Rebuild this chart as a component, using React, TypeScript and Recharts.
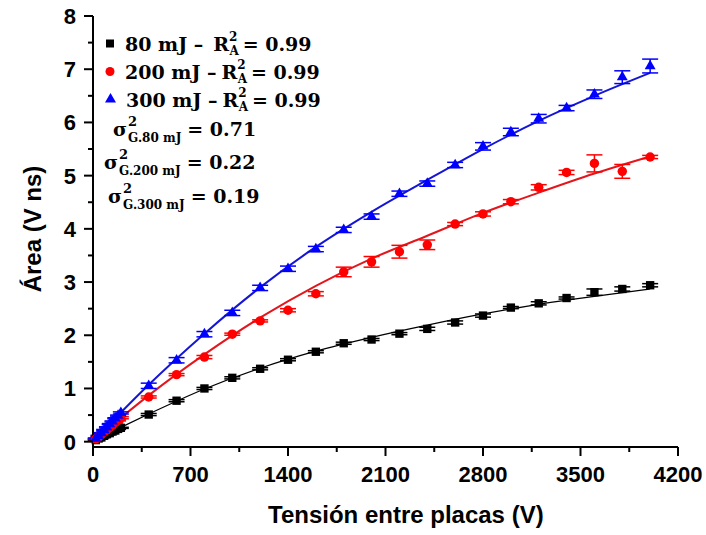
import { ComposedChart, ErrorBar, Line, Scatter, XAxis, YAxis, ZAxis } from 'recharts';

// measured points (tension in V, area in V ns)
const voltages = [
  20, 40, 60, 80, 100, 120, 140, 160, 180, 200,
  400, 600, 800, 1000, 1200, 1400, 1600, 1800, 2000, 2200,
  2400, 2600, 2800, 3000, 3200, 3400, 3600, 3800, 4000,
];
const area80 = [
  0.03, 0.06, 0.08, 0.11, 0.14, 0.16, 0.19, 0.21, 0.24, 0.26,
  0.51, 0.77, 1.0, 1.2, 1.37, 1.54, 1.69, 1.85, 1.92, 2.03,
  2.12, 2.24, 2.37, 2.52, 2.6, 2.7, 2.81, 2.87, 2.94,
];
const area200 = [
  0.05, 0.09, 0.13, 0.18, 0.22, 0.27, 0.31, 0.36, 0.4, 0.45,
  0.84, 1.26, 1.59, 2.02, 2.27, 2.47, 2.78, 3.19, 3.38, 3.57,
  3.7, 4.09, 4.28, 4.51, 4.78, 5.06, 5.23, 5.08, 5.35,
];
const area300 = [
  0.06, 0.11, 0.16, 0.22, 0.27, 0.33, 0.38, 0.44, 0.49, 0.54,
  1.05, 1.53, 2.02, 2.42, 2.89, 3.25, 3.62, 3.98, 4.23, 4.66,
  4.85, 5.2, 5.55, 5.82, 6.07, 6.27, 6.53, 6.85, 7.06,
];
const err80 = [
  0.01, 0.01, 0.01, 0.01, 0.01, 0.01, 0.01, 0.01, 0.01, 0.01,
  0.02, 0.02, 0.02, 0.02, 0.02, 0.02, 0.02, 0.02, 0.02, 0.02,
  0.03, 0.03, 0.03, 0.02, 0.03, 0.02, 0.06, 0.04, 0.03,
];
const err200 = [
  0.01, 0.01, 0.01, 0.01, 0.01, 0.01, 0.01, 0.01, 0.01, 0.02,
  0.02, 0.02, 0.03, 0.02, 0.02, 0.03, 0.04, 0.09, 0.1, 0.12,
  0.09, 0.03, 0.04, 0.04, 0.05, 0.04, 0.16, 0.13, 0.03,
];
const err300 = [
  0.01, 0.01, 0.01, 0.01, 0.01, 0.01, 0.01, 0.01, 0.01, 0.02,
  0.05, 0.05, 0.05, 0.05, 0.05, 0.05, 0.05, 0.05, 0.05, 0.05,
  0.05, 0.05, 0.07, 0.07, 0.08, 0.05, 0.08, 0.12, 0.13,
];

// fitted curves
const fitVoltages = [0, 200, 400, 800, 1200, 1600, 2000, 2400, 2800, 3200, 3600, 4000];
const fit80 = [0.01, 0.27, 0.52, 0.99, 1.38, 1.7, 1.96, 2.19, 2.4, 2.58, 2.73, 2.87];
const fit200 = [0.02, 0.45, 0.87, 1.64, 2.33, 2.93, 3.44, 3.87, 4.3, 4.68, 5.04, 5.36];
const fit300 = [0.02, 0.55, 1.07, 2.03, 2.9, 3.66, 4.32, 4.92, 5.5, 6.03, 6.5, 6.93];

const xMajor = [0, 700, 1400, 2100, 2800, 3500, 4200];
const xMinor = [350, 1050, 1750, 2450, 3150, 3850];
const yMajor = [0, 1, 2, 3, 4, 5, 6, 7, 8];
const yMinor = [0.5, 1.5, 2.5, 3.5, 4.5, 5.5, 6.5, 7.5];

const xTicks = [...xMajor, ...xMinor].sort((a, b) => a - b);
const yTicks = [...yMajor, ...yMinor].sort((a, b) => a - b);

const pts80 = voltages.map((x, i) => ({ x, y: area80[i], err: err80[i] }));
const pts200 = voltages.map((x, i) => ({ x, y: area200[i], err: err200[i] }));
const pts300 = voltages.map((x, i) => ({ x, y: area300[i], err: err300[i] }));
const line80 = fitVoltages.map((x, i) => ({ x, y: fit80[i] }));
const line200 = fitVoltages.map((x, i) => ({ x, y: fit200[i] }));
const line300 = fitVoltages.map((x, i) => ({ x, y: fit300[i] }));

const SANS = "'Liberation Sans', Arial, sans-serif";
const SERIF = "'DejaVu Serif', serif";

const BottomTick = ({ x, y, payload }: any) => {
  const major = xMajor.includes(payload.value);
  return (
    <g>
      <line x1={x} x2={x} y1={y} y2={y + (major ? 9 : 5)} stroke="#000" strokeWidth={2} />
      {major && (
        <text x={x} y={y + 35} textAnchor="middle" fontFamily={SANS} fontWeight="bold" fontSize={22} fill="#000">
          {payload.value}
        </text>
      )}
    </g>
  );
};

const TopTick = ({ x, y, payload }: any) => {
  const major = xMajor.includes(payload.value);
  return <line x1={x} x2={x} y1={y} y2={y + (major ? 9 : 5)} stroke="#000" strokeWidth={2} />;
};

const LeftTick = ({ x, y, payload }: any) => {
  const major = Number.isInteger(payload.value);
  return (
    <g>
      <line x1={x - (major ? 9 : 5)} x2={x} y1={y} y2={y} stroke="#000" strokeWidth={2} />
      {major && (
        <text x={x - 17} y={y + 8} textAnchor="end" fontFamily={SANS} fontWeight="bold" fontSize={22} fill="#000">
          {payload.value}
        </text>
      )}
    </g>
  );
};

const RightTick = ({ x, y, payload }: any) => {
  const major = Number.isInteger(payload.value);
  return <line x1={x - (major ? 9 : 5)} x2={x} y1={y} y2={y} stroke="#000" strokeWidth={2} />;
};

const axisLine = { stroke: '#000', strokeWidth: 2 };

// one legend row: "<label> – R²_A = <value>"
const RRow = ({ x, y, label, value, gap }: any) => (
  <text x={x} y={y} fontSize={19}>
    {label}
    <tspan dx={gap}>R</tspan>
    <tspan fontSize={12} dy={-10}>2</tspan>
    <tspan fontSize={12} dx={-8} dy={14}>A</tspan>
    <tspan dx={4} dy={-4}>= {value}</tspan>
  </text>
);

// one variance row: "σ²_G.<energy> = <value>"
const SigmaRow = ({ x, y, energy, value }: any) => (
  <text x={x} y={y} fontSize={19}>
    σ
    <tspan fontSize={13} dx={1} dy={-10}>2</tspan>
    <tspan fontSize={12} dx={-9} dy={16}>{`G.${energy}`}</tspan>
    <tspan dx={6} dy={-6}>= {value}</tspan>
  </text>
);

export default function App() {
  return (
    <div style={{ position: 'absolute', left: 0, top: 0, width: 706, height: 535, background: '#fff' }}>
      <ComposedChart width={706} height={535} margin={{ top: 16, right: 28, bottom: 0, left: 0 }}>
        <XAxis
          dataKey="x"
          type="number"
          domain={[0, 4200]}
          ticks={xTicks}
          interval={0}
          tick={BottomTick}
          tickLine={false}
          tickSize={0}
          tickMargin={0}
          axisLine={axisLine}
          height={88}
        />
        <XAxis
          xAxisId="top"
          orientation="top"
          type="number"
          domain={[0, 4200]}
          ticks={xTicks}
          interval={0}
          tick={TopTick}
          tickLine={false}
          tickSize={0}
          tickMargin={0}
          axisLine={axisLine}
          height={0}
        />
        <YAxis
          type="number"
          domain={[-0.1, 8]}
          ticks={yTicks}
          interval={0}
          tick={LeftTick}
          tickLine={false}
          tickSize={0}
          tickMargin={0}
          axisLine={axisLine}
          width={93}
        />
        <YAxis
          yAxisId="right"
          orientation="right"
          type="number"
          domain={[-0.1, 8]}
          ticks={yTicks}
          interval={0}
          tick={RightTick}
          tickLine={false}
          tickSize={0}
          tickMargin={0}
          axisLine={axisLine}
          width={0}
        />
        <ZAxis range={[70, 70]} />
        <ZAxis zAxisId="tri" range={[52, 52]} />

        <Line data={line80} dataKey="y" type="monotone" stroke="#000" strokeWidth={1.3} dot={false} isAnimationActive={false} />
        <Line data={line200} dataKey="y" type="monotone" stroke="#e3161e" strokeWidth={2} dot={false} isAnimationActive={false} />
        <Line data={line300} dataKey="y" type="monotone" stroke="#1515d6" strokeWidth={2} dot={false} isAnimationActive={false} />

        <Scatter data={pts80} dataKey="y" shape="square" fill="#000" isAnimationActive={false}>
          <ErrorBar dataKey="err" direction="y" width={8} stroke="#000" strokeWidth={1.5} />
        </Scatter>
        <Scatter data={pts200} dataKey="y" shape="circle" fill="#f00" isAnimationActive={false}>
          <ErrorBar dataKey="err" direction="y" width={8} stroke="#f00" strokeWidth={1.5} />
        </Scatter>
        <Scatter data={pts300} dataKey="y" zAxisId="tri" shape="triangle" fill="#00f" isAnimationActive={false}>
          <ErrorBar dataKey="err" direction="y" width={8} stroke="#00f" strokeWidth={1.5} />
        </Scatter>
      </ComposedChart>

      <svg
        width={706}
        height={535}
        style={{ position: 'absolute', left: 0, top: 0, pointerEvents: 'none' }}
      >
        <text
          transform="translate(41 229) rotate(-90)"
          textAnchor="middle"
          fontFamily={SANS}
          fontWeight="bold"
          fontSize={24}
          fill="#000"
        >
          Área (V ns)
        </text>
        <text x={268} y={523} fontFamily={SANS} fontWeight="bold" fontSize={24} fill="#000">
          Tensión entre placas (V)
        </text>

        <g fontFamily={SERIF} fontWeight="bold" fill="#000">
          <rect x={106} y={39.5} width={8} height={8} fill="#000" />
          <RRow x={125} y={51} label="80 mJ –" gap={10} value="0.99" />

          <circle cx={110} cy={71.5} r={4.5} fill="#f00" />
          <RRow x={125} y={79} label="200 mJ –" gap={5} value="0.99" />

          <polygon points="110.5,93 116,102.5 105,102.5" fill="#00f" />
          <RRow x={126} y={107} label="300 mJ –" gap={5} value="0.99" />

          <SigmaRow x={113} y={136} energy="80 mJ" value="0.71" />
          <SigmaRow x={104} y={169} energy="200 mJ" value="0.22" />
          <SigmaRow x={108} y={203} energy="300 mJ" value="0.19" />
        </g>
      </svg>
    </div>
  );
}
